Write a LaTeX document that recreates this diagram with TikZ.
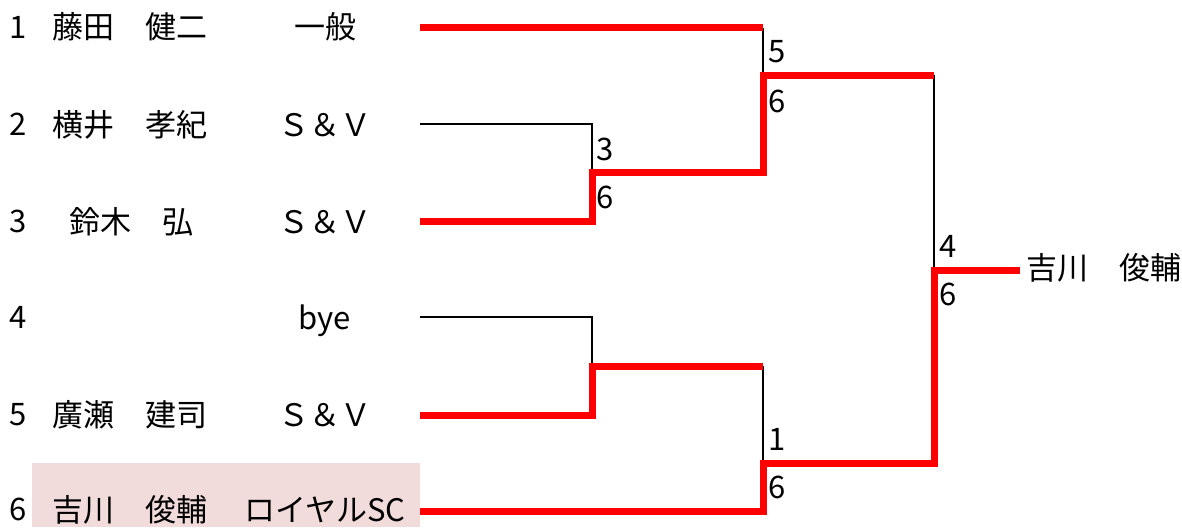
\documentclass[tikz,border=0pt]{standalone}
\usepackage{fontspec}
\setmainfont{Noto Sans CJK JP}
\usetikzlibrary{positioning}
\definecolor{seedpink}{HTML}{F2DCDB}
\tikzset{
	win/.style={draw=red, line width=7pt},
	lose/.style={draw=black, line width=2.8pt},
	txt/.style={inner sep=0pt, anchor=base west, font=\fontsize{31}{36}\selectfont},
	club/.style={txt, anchor=base},
	score/.style={txt}
}
\begin{document}
\begin{tikzpicture}[x=1pt, y=-1pt]
		\fill[white] (0,0) rectangle (1182,527);
		\useasboundingbox (0,0) rectangle (1182,527);
		\fill[seedpink] (32,463) rectangle (420,527);
		\node at (9,38) [txt] (n1) {1};
		\node at (52,39) [txt] (p1) {藤田　健二};
		\node at (325,39) [club] (c1) {一般};
		\node at (9,135) [txt] (n2) {2};
		\node at (52,136) [txt] (p2) {横井　孝紀};
		\node at (325,136) [club] (c2) {Ｓ＆Ｖ};
		\node at (9,232) [txt] (n3) {3};
		\node at (69,233) [txt] (p3) {鈴木　弘};
		\node at (325,233) [club] (c3) {Ｓ＆Ｖ};
		\node at (9,328) [txt] (n4) {4};
		\node at (325,329) [club] (c4) {bye};
		\node at (9,425) [txt] (n5) {5};
		\node at (52,426) [txt] (p5) {廣瀬　建司};
		\node at (325,426) [club] (c5) {Ｓ＆Ｖ};
		\node at (9,520) [txt] (n6) {6};
		\node at (52,521) [txt] (p6) {吉川　俊輔};
		\node at (325,521) [club] (c6) {ロイヤルSC};
		\node at (1026,279) [txt] (champ) {吉川　俊輔};
		\coordinate (e1) at (420,28);
		\coordinate (e2) at (420,124);
		\coordinate (e3) at (420,221);
		\coordinate (e4) at (420,317);
		\coordinate (e5) at (420,415);
		\coordinate (e6) at (420,511);
		\coordinate (m1) at (592,172);
		\coordinate (m2) at (592,366);
		\coordinate (m3) at (763,75);
		\coordinate (m4) at (763,463);
		\coordinate (f) at (934,270);
		\draw[lose] (e2) -| (m1);
		\draw[lose] (e4) -| (m2);
		\draw[lose] (e1 -| m3) -- (m3);
		\draw[lose] (m2 -| m4) -- (m4);
		\draw[lose] (m3 -| f) -- (f);
		\draw[win] (e1) -- (e1 -| m3);
		\draw[win] (e3) -| (m1) -| (m3) -- (m3 -| f);
		\draw[win] (e5) -| (m2) -- (m2 -| m4);
		\draw[win] (e6) -| (m4) -| (f) -- ([xshift=-6pt]f -| champ.west);
		\node at (768,63) [score] (s1a) {5};
		\node at (768,112) [score] (s1b) {6};
		\node at (596,160) [score] (s2a) {3};
		\node at (596,208) [score] (s2b) {6};
		\node at (768,450) [score] (s3a) {1};
		\node at (768,498) [score] (s3b) {6};
		\node at (939,257) [score] (s4a) {4};
		\node at (939,305) [score] (s4b) {6};
\end{tikzpicture}
\end{document}
